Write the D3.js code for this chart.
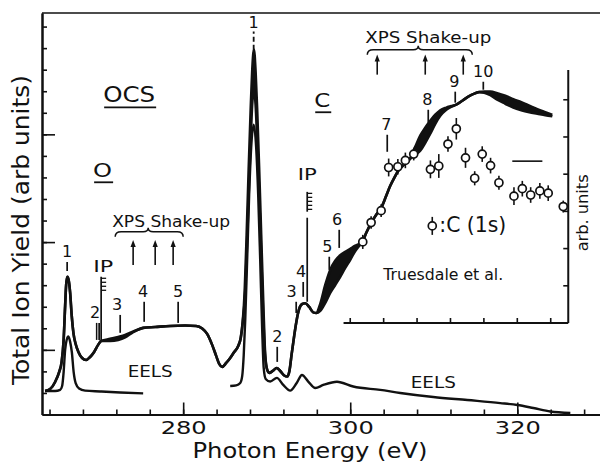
<!DOCTYPE html>
<html>
<head>
<meta charset="utf-8">
<script src="https://cdn.jsdelivr.net/npm/d3@7/dist/d3.min.js"></script>
<style>
  html, body { margin: 0; padding: 0; background: #fff; }
  svg { display: block; }
  text { font-family: "DejaVu Sans", "Liberation Sans", sans-serif; fill: #111; }
</style>
</head>
<body>
<svg id="chart" width="600" height="465"></svg>
<script>
// ---- Total ion yield (OCS, O 1s and C 1s edges on one energy axis) ----
const tiyEnergy = [263.47, 264.07, 264.67, 265.15, 265.45, 265.69, 265.87, 265.99, 266.14, 266.31,
  266.47, 266.65, 266.86, 267.13, 267.46, 267.90, 268.38, 268.86, 269.34, 269.82,
  270.18, 271.26, 272.22, 273.05, 273.89, 274.49, 275.21, 276.65, 278.44, 280.24,
  281.56, 282.28, 282.87, 283.47, 283.95, 284.31, 284.67, 285.15, 285.63, 286.11,
  286.59, 286.89, 287.13, 287.37, 287.60, 287.84, 288.08, 288.26, 288.47, 288.67,
  288.86, 289.10, 289.34, 289.58, 289.76, 290.00, 290.30, 290.72, 291.20, 291.62,
  292.10, 292.46, 292.72, 292.99, 293.29, 293.59, 293.89, 294.25, 294.61, 295.09,
  295.57, 295.93, 296.41, 297.01, 297.60, 298.20, 298.80, 299.40, 300.00, 300.60,
  301.08, 301.44, 301.92, 302.51, 303.11, 303.71, 304.31, 304.79, 305.27, 305.75,
  306.23, 306.71, 307.19, 307.78, 308.38, 308.98, 309.58, 310.18, 310.78, 311.50,
  312.10, 312.69, 313.41, 314.13, 314.85, 315.45, 316.05, 316.77, 317.60, 318.56,
  319.52, 320.48, 321.44, 322.40, 323.35, 324.19];

// upper edge of the yield curve
const tiyUpper = [1.09, 1.18, 1.51, 1.97, 2.44, 3.46, 5.04, 6.01, 6.39, 6.20,
  5.64, 4.62, 3.79, 3.27, 2.90, 2.62, 2.53, 2.67, 2.90, 3.23,
  3.41, 3.51, 3.60, 3.69, 3.83, 3.92, 4.02, 4.06, 4.11, 4.13,
  4.11, 3.99, 3.74, 3.23, 2.72, 2.35, 2.21, 2.39, 2.62, 2.90,
  3.18, 3.55, 4.30, 5.78, 8.34, 11.36, 14.14, 15.91, 16.93, 15.91,
  14.14, 11.36, 8.34, 5.32, 3.23, 2.16, 1.93, 2.02, 2.16, 2.02,
  1.81, 1.76, 2.02, 2.81, 3.65, 4.39, 4.90, 5.13, 5.16, 4.99,
  4.74, 4.71, 5.13, 6.01, 6.71, 7.13, 7.39, 7.55, 7.69, 7.83,
  7.92, 8.01, 8.43, 8.89, 9.27, 9.59, 10.15, 10.61, 10.98, 11.31,
  11.52, 11.68, 11.91, 12.42, 12.94, 13.31, 13.63, 13.91, 14.12, 14.24,
  14.31, 14.38, 14.56, 14.75, 14.89, 14.96, 14.98, 14.98, 14.91, 14.79,
  14.63, 14.49, 14.33, 14.17, 14.03, 13.91];

// lower edge (differs from the upper edge where the curve is drawn as a band)
const tiyLower = [1.09, 1.18, 1.51, 1.97, 2.44, 3.46, 5.04, 6.01, 6.39, 6.20,
  5.64, 4.62, 3.79, 3.27, 2.90, 2.62, 2.53, 2.67, 2.90, 3.23,
  3.41, 3.41, 3.46, 3.58, 3.79, 3.92, 4.02, 4.06, 4.11, 4.13,
  4.11, 3.99, 3.74, 3.23, 2.72, 2.35, 2.21, 2.39, 2.62, 2.90,
  3.18, 3.55, 4.30, 5.32, 7.41, 10.20, 12.75, 14.38, 15.07, 14.38,
  12.75, 10.20, 7.41, 4.62, 3.00, 2.16, 1.93, 2.02, 2.16, 2.02,
  1.81, 1.76, 2.02, 2.81, 3.65, 4.39, 4.90, 5.13, 5.16, 4.99,
  4.74, 4.71, 4.81, 5.18, 5.64, 6.01, 6.39, 6.80, 7.18, 7.59,
  7.83, 8.01, 8.43, 8.89, 9.27, 9.59, 10.15, 10.61, 10.98, 11.31,
  11.52, 11.68, 11.87, 12.05, 12.24, 12.61, 13.03, 13.49, 13.86, 14.14,
  14.28, 14.38, 14.56, 14.75, 14.89, 14.96, 14.93, 14.82, 14.61, 14.42,
  14.24, 14.12, 14.03, 13.96, 13.89, 13.84];

// ---- EELS spectra ----
const eelsOEnergy = [263.47, 264.67, 265.27, 265.51, 265.69, 265.87, 266.05, 266.26, 266.47, 266.67,
  266.89, 267.13, 267.54, 268.26, 270.06, 272.46, 275.21];
const eelsOYield = [1.09, 1.09, 1.14, 1.32, 1.97, 3.00, 3.46, 3.62, 3.37, 2.90,
  1.97, 1.46, 1.21, 1.11, 1.07, 1.02, 0.98];

const eelsCEnergy = [285.63, 286.35, 286.83, 287.07, 287.25, 287.43, 287.66, 287.90, 288.14, 288.44,
  288.74, 288.98, 289.22, 289.46, 289.64, 289.88, 290.42, 291.22, 291.98, 292.81,
  293.59, 294.22, 294.97, 295.81, 296.77, 298.41, 300.36, 303.59, 305.99, 309.94,
  314.01, 317.96, 320.00, 321.92, 323.95, 326.35];
const eelsCYield = [1.32, 1.35, 1.46, 1.79, 2.76, 4.39, 7.18, 10.20, 12.38, 13.45,
  12.38, 10.20, 7.18, 3.92, 2.16, 1.65, 1.53, 1.70, 1.37, 1.11,
  1.46, 1.83, 1.53, 1.23, 1.37, 1.52, 1.30, 1.14, 1.00, 0.81,
  0.67, 0.53, 0.44, 0.30, 0.14, 0.07];

// ---- C(1s) partial cross section, Truesdale et al. (inset, arb. units) ----
const c1sEnergy = [301.5, 302.5, 303.7, 304.6, 305.7, 306.6, 307.6, 309.6, 310.6, 311.7,
  312.7, 313.8, 314.9, 315.8, 316.8, 317.8, 319.6, 320.6, 321.6, 322.7, 323.7, 325.5];
const c1sValue = [2.18, 2.70, 3.02, 4.18, 4.20, 4.37, 4.54, 4.13, 4.22, 4.81,
  5.22, 4.44, 3.89, 4.54, 4.23, 3.77, 3.41, 3.61, 3.44, 3.55, 3.49, 3.13];
const c1sError = [0.19, 0.17, 0.17, 0.24, 0.21, 0.21, 0.17, 0.24, 0.32, 0.21,
  0.29, 0.27, 0.19, 0.21, 0.21, 0.19, 0.24, 0.21, 0.21, 0.21, 0.21, 0.16];

// ---- axis ticks ----
const xMinorTicks = d3.range(264, 330, 4);
const xMajorTicks = [280, 300, 320];
const yMinorTicks = d3.range(1, 19);
const yMajorTicks = [3, 8, 13];
const insetXTicks = [300, 304, 308, 312, 316, 320, 324];
const insetYTicks = [1, 2, 3, 4, 5, 6];

// ---- feature markers on the yield curve ----
const features = [
  { t: "1", e: 266.11, v0: 6.66, v1: 7.08, dx: 0 },
  { t: "2", e: 269.94, v0: 3.46, v1: 4.25, dx: -4, twin: true },
  { t: "3", e: 272.46, v0: 3.79, v1: 4.62, dx: -3 },
  { t: "4", e: 275.33, v0: 4.30, v1: 5.23, dx: -1 },
  { t: "5", e: 279.40, v0: 4.25, v1: 5.23, dx: 0 },
  { t: "2", e: 291.26, v0: 2.44, v1: 3.14, dx: 0 },
  { t: "3", e: 293.53, v0: 4.71, v1: 5.23, dx: -4.5 },
  { t: "4", e: 294.37, v0: 5.46, v1: 6.15, dx: -2 },
  { t: "5", e: 297.49, v0: 6.71, v1: 7.32, dx: -2 },
  { t: "6", e: 298.68, v0: 7.73, v1: 8.57, dx: -2 },
  { t: "7", e: 304.43, v0: 12.19, v1: 12.98, dx: -1 },
  { t: "8", e: 309.34, v0: 13.54, v1: 14.14, dx: -1 },
  { t: "9", e: 312.57, v0: 14.47, v1: 14.98, dx: -1 },
  { t: "10", e: 315.93, v0: 15.07, v1: 15.44, dx: 0 }
];
const shakeUpO = [274.01, 276.65, 278.80];
const shakeUpC = [303.23, 308.98, 313.53];

// ================= drawing =================
const svg = d3.select("#chart");
const INK = "#111";

const x = d3.scaleLinear().domain([263.1, 329.9]).range([42, 600]);
const y = d3.scaleLinear().domain([0, 18.63]).range([414.5, 13]);
const yIn = d3.scaleLinear().domain([0, 6.8]).range([323, 70]);

// frame: top rule
svg.append("line").attr("x1", 42).attr("x2", 600).attr("y1", 13).attr("y2", 13)
  .attr("stroke", INK).attr("stroke-width", 1.6);

function styleAxis(g, w) {
  g.selectAll("path.domain").attr("stroke", INK).attr("stroke-width", w);
  g.selectAll(".tick line").attr("stroke", INK).attr("stroke-width", 1.6);
}

// bottom axis: minor and major ticks pointing inward
const gxMinor = svg.append("g").attr("transform", "translate(0,414.5)")
  .call(d3.axisBottom(x).tickValues(xMinorTicks).tickSize(-5).tickSizeOuter(0).tickFormat(""));
styleAxis(gxMinor, 2);
const gxMajor = svg.append("g").attr("transform", "translate(0,414.5)")
  .call(d3.axisBottom(x).tickValues(xMajorTicks).tickSize(-12).tickSizeOuter(0).tickPadding(7).tickFormat(d3.format("d")));
styleAxis(gxMajor, 2);
gxMajor.selectAll(".tick text")
  .attr("font-family", "DejaVu Sans").attr("font-size", 18).attr("fill", INK)
  .attr("textLength", 46).attr("lengthAdjust", "spacingAndGlyphs");

// left axis
const gyMinor = svg.append("g").attr("transform", "translate(42,0)")
  .call(d3.axisLeft(y).tickValues(yMinorTicks).tickSize(-5).tickSizeOuter(0).tickFormat(""));
styleAxis(gyMinor, 2);
const gyMajor = svg.append("g").attr("transform", "translate(42,0)")
  .call(d3.axisLeft(y).tickValues(yMajorTicks).tickSize(-13).tickSizeOuter(0).tickFormat(""));
styleAxis(gyMajor, 2);

// axis titles
svg.append("text").attr("transform", "translate(29,230) rotate(-90)")
  .attr("text-anchor", "middle").attr("font-size", 23)
  .attr("textLength", 310).attr("lengthAdjust", "spacingAndGlyphs")
  .text("Total Ion Yield (arb units)");
svg.append("text").attr("x", 310).attr("y", 458)
  .attr("text-anchor", "middle").attr("font-size", 22)
  .attr("textLength", 235).attr("lengthAdjust", "spacingAndGlyphs")
  .text("Photon Energy (eV)");

// ---- EELS curves ----
const lineGen = d3.line().curve(d3.curveMonotoneX);
const eelsO = eelsOEnergy.map((e, i) => [x(e), y(eelsOYield[i])]);
const eelsC = eelsCEnergy.map((e, i) => [x(e), y(eelsCYield[i])]);
[eelsO, eelsC].forEach(pts => {
  svg.append("path").attr("d", lineGen(pts)).attr("fill", "none")
    .attr("stroke", INK).attr("stroke-width", 2.4).attr("stroke-linejoin", "round");
});

// ---- total ion yield: band between upper and lower edges ----
const tiy = tiyEnergy.map((e, i) => ({ e, hi: tiyUpper[i], lo: tiyLower[i] }));
const band = d3.area().curve(d3.curveMonotoneX)
  .x(d => x(d.e)).y0(d => y(d.lo)).y1(d => y(d.hi));
svg.append("path").datum(tiy).attr("d", band).attr("fill", INK);
const hiLine = d3.line().curve(d3.curveMonotoneX).x(d => x(d.e)).y(d => y(d.hi));
const loLine = d3.line().curve(d3.curveMonotoneX).x(d => x(d.e)).y(d => y(d.lo));
[hiLine, loLine].forEach(gen => {
  svg.append("path").datum(tiy).attr("d", gen).attr("fill", "none")
    .attr("stroke", INK).attr("stroke-width", 2.6).attr("stroke-linejoin", "round");
});

// ---- feature markers ----
const fg = svg.append("g");
features.forEach(f => {
  const px = x(f.e);
  fg.append("line").attr("x1", px).attr("x2", px).attr("y1", y(f.v0)).attr("y2", y(f.v1))
    .attr("stroke", INK).attr("stroke-width", 1.7);
  if (f.twin) {
    fg.append("line").attr("x1", px - 2.5).attr("x2", px - 2.5).attr("y1", y(f.v0)).attr("y2", y(f.v1))
      .attr("stroke", INK).attr("stroke-width", 1.5);
  }
  fg.append("text").attr("x", px + f.dx).attr("y", y(f.v1) - 5)
    .attr("text-anchor", "middle").attr("font-size", 16).text(f.t);
});
// main C 1s -> pi* resonance marker (dashed)
{
  const px = x(288.44);
  fg.append("line").attr("x1", px).attr("x2", px).attr("y1", y(16.93)).attr("y2", y(17.77))
    .attr("stroke", INK).attr("stroke-width", 1.8).attr("stroke-dasharray", "5,3");
  fg.append("text").attr("x", px).attr("y", y(17.77) - 4)
    .attr("text-anchor", "middle").attr("font-size", 16).text("1");
}

// ionization potentials (comb markers)
function comb(e, vTop, vBot, n) {
  const px = x(e), top = y(vTop);
  fg.append("line").attr("x1", px).attr("x2", px).attr("y1", top).attr("y2", y(vBot))
    .attr("stroke", INK).attr("stroke-width", 1.7);
  for (let k = 0; k < n; k++) {
    fg.append("line").attr("x1", px).attr("x2", px + 5)
      .attr("y1", top + 1.5 + 4 * k).attr("y2", top + 1.5 + 4 * k)
      .attr("stroke", INK).attr("stroke-width", 1.3);
  }
}
comb(270.18, 6.39, 3.46, 4);
fg.append("text").attr("x", x(270.42)).attr("y", y(6.62)).attr("text-anchor", "middle")
  .attr("font-size", 16).attr("textLength", 20).attr("lengthAdjust", "spacingAndGlyphs").text("IP");
comb(294.85, 10.33, 9.41, 5);
fg.append("line").attr("x1", x(294.85)).attr("x2", x(294.85)).attr("y1", y(9.13)).attr("y2", y(5.23))
  .attr("stroke", INK).attr("stroke-width", 1.7);
fg.append("text").attr("x", x(294.85)).attr("y", y(10.89)).attr("text-anchor", "middle")
  .attr("font-size", 16).attr("textLength", 19).attr("lengthAdjust", "spacingAndGlyphs").text("IP");

// ---- XPS shake-up groups: label, brace and arrows ----
function shakeUp(energies, e0, e1, ec, vBrace, vTail, vHead, textE, textV, textLen) {
  const g = svg.append("g");
  g.append("text").attr("x", x(textE)).attr("y", y(textV)).attr("font-size", 15)
    .attr("textLength", textLen).attr("lengthAdjust", "spacingAndGlyphs").text("XPS Shake-up");
  const a = x(e0), b = x(e1), c = x(ec), by = y(vBrace);
  const br = `M${a},${by + 5} Q${a},${by} ${a + 6},${by} L${c - 5},${by} Q${c},${by} ${c},${by - 4}`
    + ` Q${c},${by} ${c + 5},${by} L${b - 6},${by} Q${b},${by} ${b},${by + 5}`;
  g.append("path").attr("d", br).attr("fill", "none").attr("stroke", INK).attr("stroke-width", 1.5);
  energies.forEach(e => {
    const px = x(e), t = y(vTail), h = y(vHead);
    g.append("line").attr("x1", px).attr("x2", px).attr("y1", t).attr("y2", h + 5)
      .attr("stroke", INK).attr("stroke-width", 1.6);
    g.append("path").attr("d", `M${px},${h} L${px - 2.6},${h + 7} L${px + 2.6},${h + 7} Z`).attr("fill", INK);
  });
}
shakeUp(shakeUpO, 271.86, 280.0, 275.81, 8.48, 6.94, 8.10, 271.5, 8.71, 118);
shakeUp(shakeUpC, 302.04, 314.61, 308.14, 16.93, 15.77, 16.70, 301.8, 17.25, 126);

// ---- molecule / edge labels ----
function underlined(txt, e, v, size, len) {
  const px = x(e), py = y(v);
  svg.append("text").attr("x", px).attr("y", py).attr("font-size", size)
    .attr("textLength", len).attr("lengthAdjust", "spacingAndGlyphs").text(txt);
  svg.append("line").attr("x1", px + 1).attr("x2", px + len + 1).attr("y1", py + 5.5).attr("y2", py + 5.5)
    .attr("stroke", INK).attr("stroke-width", 1.8);
}
underlined("OCS", 270.42, 14.51, 21, 52);
underlined("O", 269.22, 11.03, 20, 19);
underlined("C", 295.69, 14.28, 19, 16);

svg.append("text").attr("x", x(276.05)).attr("y", y(1.74)).attr("text-anchor", "middle")
  .attr("font-size", 16).attr("textLength", 45).attr("lengthAdjust", "spacingAndGlyphs").text("EELS");
svg.append("text").attr("x", x(309.94)).attr("y", y(1.23)).attr("text-anchor", "middle")
  .attr("font-size", 16).attr("textLength", 45).attr("lengthAdjust", "spacingAndGlyphs").text("EELS");

// ================= inset: C(1s) cross section =================
const ig = svg.append("g");
const insetLeft = x(299.2), insetRight = x(326.1);
ig.append("line").attr("x1", insetLeft).attr("x2", insetRight).attr("y1", yIn(0)).attr("y2", yIn(0))
  .attr("stroke", INK).attr("stroke-width", 2);
ig.append("line").attr("x1", insetRight).attr("x2", insetRight).attr("y1", yIn(0)).attr("y2", yIn(6.8))
  .attr("stroke", INK).attr("stroke-width", 2);
insetXTicks.forEach(e => {
  ig.append("line").attr("x1", x(e)).attr("x2", x(e)).attr("y1", yIn(0)).attr("y2", yIn(0) - 5)
    .attr("stroke", INK).attr("stroke-width", 1.6);
});
insetYTicks.forEach(v => {
  ig.append("line").attr("x1", insetRight).attr("x2", insetRight - 5).attr("y1", yIn(v)).attr("y2", yIn(v))
    .attr("stroke", INK).attr("stroke-width", 1.6);
});
ig.append("text").attr("transform", `translate(${x(327.9) + 5},${yIn(2.96)}) rotate(-90)`)
  .attr("text-anchor", "middle").attr("font-size", 16)
  .attr("textLength", 77).attr("lengthAdjust", "spacingAndGlyphs").text("arb. units");

const c1s = c1sEnergy.map((e, i) => ({ e, v: c1sValue[i], err: c1sError[i] }));
ig.selectAll("line.err").data(c1s).join("line").attr("class", "err")
  .attr("x1", d => x(d.e)).attr("x2", d => x(d.e))
  .attr("y1", d => yIn(d.v - d.err)).attr("y2", d => yIn(d.v + d.err))
  .attr("stroke", INK).attr("stroke-width", 1.6);
ig.selectAll("circle.pt").data(c1s).join("circle").attr("class", "pt")
  .attr("cx", d => x(d.e)).attr("cy", d => yIn(d.v)).attr("r", 4)
  .attr("fill", "#fff").attr("stroke", INK).attr("stroke-width", 1.7);

// reference level bar
ig.append("line").attr("x1", x(319.4)).attr("x2", x(323.0)).attr("y1", yIn(4.35)).attr("y2", yIn(4.35))
  .attr("stroke", INK).attr("stroke-width", 1.6);

// legend entry
{
  const lx = x(309.82), ly = yIn(2.61);
  ig.append("line").attr("x1", lx).attr("x2", lx).attr("y1", ly - 9).attr("y2", ly + 9)
    .attr("stroke", INK).attr("stroke-width", 1.6);
  ig.append("circle").attr("cx", lx).attr("cy", ly).attr("r", 4)
    .attr("fill", "#fff").attr("stroke", INK).attr("stroke-width", 1.7);
  ig.append("text").attr("x", x(310.66)).attr("y", yIn(2.45)).attr("font-size", 21)
    .attr("textLength", 67).attr("lengthAdjust", "spacingAndGlyphs").text(":C (1s)");
}
ig.append("text").attr("x", x(303.95)).attr("y", yIn(1.16)).attr("font-size", 16)
  .attr("textLength", 120).attr("lengthAdjust", "spacingAndGlyphs").text("Truesdale et al.");
</script>
</body>
</html>
